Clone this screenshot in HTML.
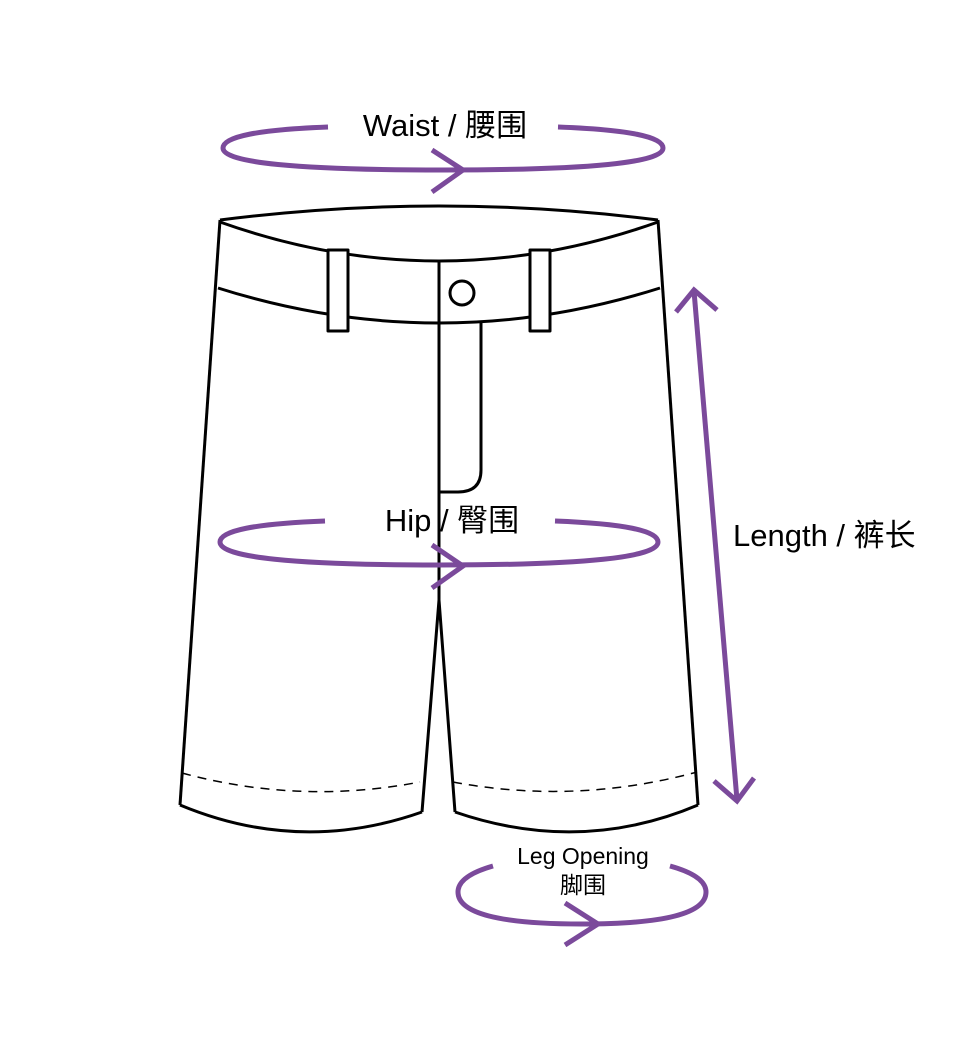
<!DOCTYPE html>
<html><head><meta charset="utf-8"><style>
html,body{margin:0;padding:0;background:#fff;}
svg{display:block;}
text{font-family:"Liberation Sans","Noto Sans CJK SC",sans-serif;fill:#000;}
</style></head><body>
<svg width="980" height="1040" viewBox="0 0 980 1040" xmlns="http://www.w3.org/2000/svg">
<g fill="none" stroke="#000" stroke-width="3" stroke-linejoin="round">
  <path d="M220,220 Q439,192 658,220"/>
  <path d="M220,222 Q439,300 658,222"/>
  <path d="M218,288 Q439,358 660,288"/>
  <path d="M220,220 L180,805"/>
  <path d="M658,220 L698,805"/>
  <path d="M180,805 Q300,855 422,812"/>
  <path d="M455,812 Q580,855 698,805"/>
  <path d="M422,812 L439,600 L455,812"/>
  <path d="M439,262 L439,600"/>
  <path d="M481,323 L481,470 Q481,492 458,492 L439,492"/>
  <rect x="328" y="250" width="20" height="81" fill="#fff"/>
  <rect x="530" y="250" width="20" height="81" fill="#fff"/>
  <circle cx="462" cy="293" r="12"/>
</g>
<g fill="none" stroke="#000" stroke-width="1.5" stroke-dasharray="9,7">
  <path d="M182,773 Q300,805 420,782"/>
  <path d="M453,782 Q575,805 697,772"/>
</g>
<g fill="none" stroke="#7B4A9B" stroke-width="5" stroke-linecap="butt">
  <path d="M328,127 Q223,131 223,148 Q223,170 443,170 Q663,170 663,148 Q663,131 558,127"/>
  <path d="M432,150 L463,170 L432,192"/>
  <path d="M325,521 Q220,525 220,542 Q220,565 439,565 Q658,565 658,542 Q658,525 555,521"/>
  <path d="M432,545 L463,566 L432,588"/>
  <path d="M493,866 Q458,876 458,892 Q458,924 582,924 Q706,924 706,892 Q706,876 670,866"/>
  <path d="M565,903 L598,924 L565,945"/>
  <path d="M694,291 L737,800"/>
  <path d="M676,312 L694,290 L717,310"/>
  <path d="M714,781 L737,801 L754,778"/>
</g>
<text x="445" y="136" font-size="31" text-anchor="middle">Waist / 腰围</text>
<text x="452" y="531" font-size="31" text-anchor="middle">Hip / 臀围</text>
<text x="733" y="546" font-size="31">Length / 裤长</text>
<text x="583" y="864" font-size="23" text-anchor="middle">Leg Opening</text>
<text x="583" y="893" font-size="23" text-anchor="middle">脚围</text>
</svg>
</body></html>
